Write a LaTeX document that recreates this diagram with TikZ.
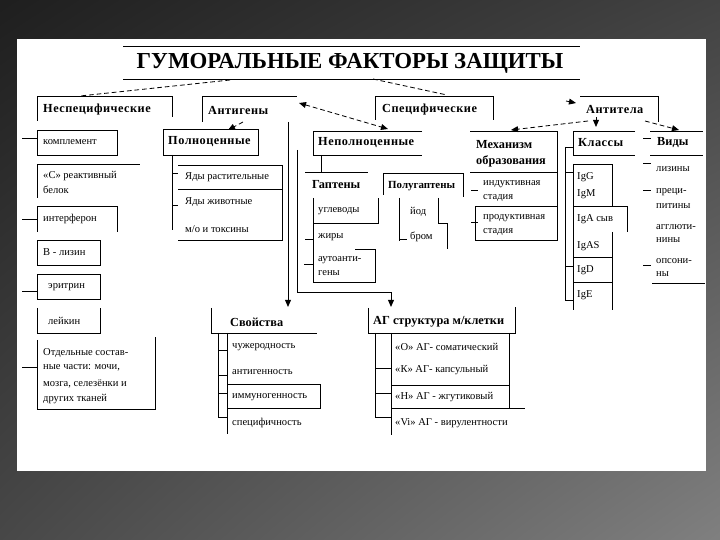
\documentclass[tikz,border=0pt]{standalone}
\usepackage{fontspec}
\setmainfont{Liberation Serif}
\newfontfamily\hdfam[LetterSpace=4]{Liberation Serif}
\newfontfamily\hdfamt[LetterSpace=0]{Liberation Serif}
\usetikzlibrary{arrows.meta,shadings}
\newcommand\ttlfont{\fontsize{19.5}{22}\selectfont\bfseries}
\newcommand\hdfont{\hdfam\fontsize{10.5}{12}\selectfont\bfseries}
\newcommand\hdtfont{\hdfamt\fontsize{10.5}{12}\selectfont\bfseries}
\newcommand\hdsfont{\hdfamt\fontsize{9.3}{11}\selectfont\bfseries}
\newcommand\txfont{\fontsize{9}{11}\selectfont}
\tikzset{
  ln/.style={line width=0.8pt, black},
  hd/.style={font=\hdfont, anchor=west, inner sep=0pt},
  hdt/.style={font=\hdtfont, anchor=west, inner sep=0pt},
  hds/.style={font=\hdsfont, anchor=west, inner sep=0pt},
  tx/.style={font=\txfont, anchor=west, inner sep=0pt},
  dsh/.style={line width=0.7pt, dash pattern=on 4pt off 2.5pt},
  tip/.style={-{Triangle[length=6pt,width=5pt]}},
  tips/.style={{Triangle[length=6pt,width=5pt]}-{Triangle[length=6pt,width=5pt]}}
}
\begin{document}
\begin{tikzpicture}[x=0.03cm,y=-0.03cm]
\useasboundingbox (0,0) rectangle (720,540);
\shade[upper left=black!88, upper right=black!74, lower left=black!72, lower right=black!50] (0,0) rectangle (720,540);
\fill[white] (17,39) rectangle (706,471);

% title
\draw[ln] (123,46) -- (580,46);
\draw[ln] (123,79) -- (580,79);
\node[font=\ttlfont, inner sep=0pt] (title) at (350,63) {ГУМОРАЛЬНЫЕ ФАКТОРЫ ЗАЩИТЫ};

% dashed connectors
\coordinate (t1) at (230,80); \coordinate (n1) at (80,96);
\coordinate (t2) at (373,79); \coordinate (s1) at (447,95);
\draw[dsh] (t1) -- (n1);
\draw[dsh] (t2) -- (s1);
\coordinate (ag1) at (299,103); \coordinate (np1) at (388,129);
\draw[dsh,tips] (ag1) -- (np1);
\coordinate (ag2) at (243,122); \coordinate (pc1) at (228,130);
\draw[dsh,tip] (ag2) -- (pc1);
\coordinate (at0) at (566,101); \coordinate (at1) at (576,103);
\draw[line width=0.7pt,tip] (at0) -- (at1);
\coordinate (at2) at (588,121); \coordinate (mh1) at (511,130);
\draw[dsh,tip] (at2) -- (mh1);
\coordinate (at3) at (596,117); \coordinate (kl1) at (596,127);
\draw[line width=0.7pt,tip] (at3) -- (kl1);
\coordinate (at4) at (645,121); \coordinate (vd1) at (679,130);
\draw[dsh,tip] (at4) -- (vd1);

% ---------- Неспецифические ----------
\draw[ln] (37,121) -- (37,96) -- (172,96) -- (172,117);
\node[hd] (nsp) at (43,110) {Неспецифические};
\foreach \y in {138,219,291,367} \draw[ln] (22,\y) -- (37,\y);
\draw[ln] (37,130) rectangle (117,155);
\node[tx] (kompl) at (43,142) {комплемент};
\draw[ln] (37,198) -- (37,164) -- (140,164);
\node[tx] (crb1) at (43,176) {«С» реактивный};
\node[tx] (crb2) at (43,190) {белок};
\draw[ln] (37,232) -- (37,206) -- (117,206) -- (117,232);
\node[tx] (interf) at (43,219) {интерферон};
\draw[ln] (37,240) rectangle (100,265);
\node[tx] (blz) at (43,252) {В - лизин};
\draw[ln] (37,274) rectangle (100,299);
\node[tx] (eritr) at (48,287) {эритрин};
\draw[ln] (37,308) -- (37,333) -- (100,333) -- (100,308);
\node[tx] (leik) at (48,321) {лейкин};
\draw[ln] (37,340) -- (37,409) -- (155,409) -- (155,337);
\node[tx] (otd1) at (43,353) {Отдельные состав-};
\node[tx] (otd2) at (43,368) {ные части: мочи,};
\node[tx] (otd3) at (43,384) {мозга, селезёнки и};
\node[tx] (otd4) at (43,399) {других тканей};

% ---------- Антигены ----------
\draw[ln] (202,122) -- (202,96) -- (297,96);
\node[hd] (antig) at (208,110) {Антигены};
\coordinate (va0) at (288,122); \coordinate (va1) at (288,307);
\draw[ln,tip] (va0) -- (va1);
\coordinate (vb0) at (297,150); \coordinate (vb1) at (391,307);
\draw[ln,tip] (vb0) -- (297,292) -- (391,292) -- (vb1);

% Полноценные
\draw[ln] (163,129) rectangle (258,155);
\node[hd] (polnoc) at (168,142) {Полноценные};
\draw[ln] (172,155) -- (172,230);
\draw[ln] (172,173) -- (178,173);
\draw[ln] (172,205) -- (178,205);
\draw[ln] (178,165) -- (282,165) -- (282,240) -- (178,240);
\draw[ln] (178,189) -- (282,189);
\node[tx] (yr) at (185,177) {Яды растительные};
\node[tx] (yzh) at (185,202) {Яды животные};
\node[tx] (mo) at (185,229) {м/о и токсины};

% Неполноценные
\draw[ln] (422,131) -- (313,131) -- (313,155) -- (422,155);
\node[hd] (nepoln) at (318,143) {Неполноценные};
\draw[ln] (321,155) -- (321,172);
\draw[ln] (305,172) -- (368,172);
\node[hdt] (gapt) at (312,185) {Гаптены};
\draw[ln] (313,198) -- (313,282) -- (375,282) -- (375,249) -- (355,249);
\draw[ln] (313,223) -- (378,223) -- (378,198);
\node[tx] (uglev) at (318,211) {углеводы};
\draw[ln] (305,239) -- (313,239);
\node[tx] (zhiry) at (318,237) {жиры};
\draw[ln] (304,264) -- (313,264);
\node[tx] (auto1) at (318,260) {аутоанти-};
\node[tx] (auto2) at (318,273) {гены};

% Полугаптены
\draw[ln] (383,195) -- (383,173) -- (463,173) -- (463,197);
\node[hds] (polug) at (388,186) {Полугаптены};
\draw[ln] (399,198) -- (399,241);
\draw[ln] (438,198) -- (438,223) -- (447,223) -- (447,249);
\draw[ln] (399,239) -- (407,239);
\node[tx] (iod) at (410,212) {йод};
\node[tx] (brom) at (410,237) {бром};

% ---------- Специфические ----------
\draw[ln] (375,120) -- (375,96) -- (493,96) -- (493,120);
\node[hd] (spec) at (382,110) {Специфические};

% ---------- Антитела ----------
\draw[ln] (580,96) -- (658,96) -- (658,122);
\node[hd] (antit) at (586,110) {Антитела};

% Механизм образования
\draw[ln] (470,131) -- (557,131) -- (557,240) -- (475,240) -- (475,206);
\draw[ln] (470,172) -- (557,172);
\draw[ln] (475,206) -- (557,206);
\node[hdt] (meh1) at (476,145) {Механизм};
\node[hdt] (meh2) at (476,161) {образования};
\draw[ln] (471,190) -- (478,190);
\draw[ln] (471,222) -- (478,222);
\node[tx] (ind1) at (483,184) {индуктивная};
\node[tx] (ind2) at (483,198) {стадия};
\node[tx] (prod1) at (483,218) {продуктивная};
\node[tx] (prod2) at (483,232) {стадия};

% Классы
\draw[ln] (635,131) -- (573,131) -- (573,155) -- (635,155);
\node[hd] (klass) at (578,143) {Классы};
\draw[ln] (565,147) -- (565,300);
\foreach \y in {147,172,266,300} \draw[ln] (565,\y) -- (573,\y);
\draw[ln] (573,164) -- (573,310);
\draw[ln] (573,164) -- (612,164) -- (612,206);
\draw[ln] (573,206) -- (627,206) -- (627,232);
\draw[ln] (612,232) -- (612,310);
\draw[ln] (573,257) -- (612,257);
\draw[ln] (573,282) -- (612,282);
\node[tx] (igg) at (577,177) {IgG};
\node[tx] (igm) at (577,194) {IgM};
\node[tx] (iga) at (577,219) {IgA сыв};
\node[tx] (igas) at (577,246) {IgAS};
\node[tx] (igd) at (577,270) {IgD};
\node[tx] (ige) at (577,295) {IgE};

% Виды
\draw[ln] (650,131) -- (703,131);
\draw[ln] (650,155) -- (703,155);
\node[hdt] (vidy) at (657,143) {Виды};
\foreach \y in {138,163,190,265} \draw[ln] (643,\y) -- (651,\y);
\node[tx] (liz) at (656,169) {лизины};
\node[tx] (prec1) at (656,192) {преци-};
\node[tx] (prec2) at (656,206) {питины};
\node[tx] (agg1) at (656,227) {агглюти-};
\node[tx] (agg2) at (656,240) {нины};
\node[tx] (ops1) at (656,261) {опсони-};
\node[tx] (ops2) at (656,274) {ны};
\draw[ln] (652,283) -- (705,283);

% ---------- Свойства ----------
\draw[ln] (211,308) -- (211,333) -- (317,333);
\node[hdt] (svoi) at (230,322) {Свойства};
\draw[ln] (218,333) -- (218,417);
\foreach \y in {350,375,393,417} \draw[ln] (218,\y) -- (227,\y);
\draw[ln] (227,333) -- (227,434);
\draw[ln] (227,384) -- (320,384) -- (320,408) -- (227,408);
\node[tx] (chuzh) at (232,347) {чужеродность};
\node[tx] (antgn) at (232,372) {антигенность};
\node[tx] (immun) at (232,397) {иммуногенность};
\node[tx] (specf) at (232,423) {специфичность};

% ---------- АГ структура м/клетки ----------
\draw[ln] (368,308) -- (368,333) -- (515,333) -- (515,307);
\node[hdt] (agstr) at (373,322) {АГ структура м/клетки};
\draw[ln] (375,333) -- (375,417);
\foreach \y in {368,393,417} \draw[ln] (375,\y) -- (391,\y);
\draw[ln] (391,333) -- (391,435);
\draw[ln] (509,333) -- (509,408);
\draw[ln] (391,385) -- (509,385);
\draw[ln] (391,408) -- (525,408);
\node[tx] (ago) at (395,347) {«О» АГ- соматический};
\node[tx] (agk) at (395,370) {«К» АГ- капсульный};
\node[tx] (agn) at (395,397) {«Н» АГ - жгутиковый};
\node[tx] (agvi) at (395,423) {«Vi» АГ - вирулентности};
\end{tikzpicture}
\end{document}
